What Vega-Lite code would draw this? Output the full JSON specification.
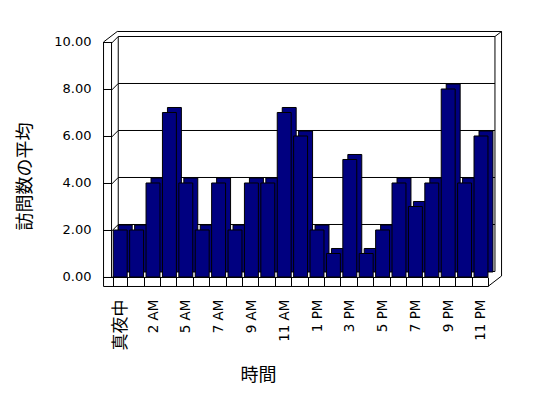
{
  "$schema": "https://vega.github.io/schema/vega-lite/v6.json",
  "width": 398,
  "height": 255,
  "autosize": {"type": "none"},
  "padding": {"left": 103, "top": 31, "right": 47, "bottom": 112},
  "background": "white",
  "view": {"stroke": null, "fill": "white"},
  "config": {
    "axis": {
      "labelFont": "DejaVu Sans, Noto Sans CJK JP",
      "labelFontSize": 13,
      "labelColor": "black",
      "tickColor": "black",
      "domainColor": "black",
      "titleFont": "Noto Sans CJK JP",
      "titleFontSize": 18,
      "titleFontWeight": "normal",
      "titleColor": "black"
    },
    "rule": {"color": "black", "strokeWidth": 1}
  },
  "datasets": {
    "bars": [
      {"h": "真夜中", "v": 2}, {"h": "1 AM", "v": 2}, {"h": "2 AM", "v": 4}, {"h": "3 AM", "v": 7},
      {"h": "5 AM", "v": 4}, {"h": "6 AM", "v": 2}, {"h": "7 AM", "v": 4}, {"h": "8 AM", "v": 2},
      {"h": "9 AM", "v": 4}, {"h": "10 AM", "v": 4}, {"h": "11 AM", "v": 7}, {"h": "12 PM", "v": 6},
      {"h": "1 PM", "v": 2}, {"h": "2 PM", "v": 1}, {"h": "3 PM", "v": 5}, {"h": "4 PM", "v": 1},
      {"h": "5 PM", "v": 2}, {"h": "6 PM", "v": 4}, {"h": "7 PM", "v": 3}, {"h": "8 PM", "v": 4},
      {"h": "9 PM", "v": 8}, {"h": "10 PM", "v": 4}, {"h": "11 PM", "v": 6}
    ],
    "grid": [{"v": 0}, {"v": 2}, {"v": 4}, {"v": 6}, {"v": 8}, {"v": 10}]
  },
  "encoding": {
    "x": {
      "field": "h", "type": "nominal", "sort": null,
      "scale": {
        "type": "band",
        "domain": ["真夜中", "1 AM", "2 AM", "3 AM", "5 AM", "6 AM", "7 AM", "8 AM", "9 AM", "10 AM", "11 AM", "12 PM", "1 PM", "2 PM", "3 PM", "4 PM", "5 PM", "6 PM", "7 PM", "8 PM", "9 PM", "10 PM", "11 PM"],
        "paddingInner": 0.15, "paddingOuter": 0.71, "align": 0.44
      },
      "axis": {
        "title": "時間",
        "labelAngle": -90,
        "labelExpr": "indexof(['真夜中','2 AM','5 AM','7 AM','9 AM','11 AM','1 PM','3 PM','5 PM','7 PM','9 PM','11 PM'], datum.value) >= 0 ? datum.value : ''",
        "labelFontSize": {"condition": {"test": "datum.value == '真夜中'", "value": 17}, "value": 13.5},
        "labelPadding": 22,
        "tickBand": "extent",
        "tickSize": -9,
        "domain": false,
        "grid": false,
        "titleX": 155,
        "titleY": 89,
        "titleBaseline": "middle"
      }
    },
    "y": {
      "field": "v", "type": "quantitative",
      "scale": {"domain": [-0.383, 10.468], "nice": false, "zero": false},
      "axis": {
        "title": "訪問数の平均",
        "values": [0, 2, 4, 6, 8, 10],
        "format": ".2f",
        "tickSize": -9,
        "labelPadding": 21,
        "domain": false,
        "grid": false,
        "titleX": -78,
        "titleY": 145,
        "titleAngle": -90,
        "titleAlign": "center",
        "titleBaseline": "middle"
      }
    }
  },
  "layer": [
    {
      "data": {"name": "grid"},
      "mark": {"type": "rule", "xOffset": 5, "x2Offset": 7, "yOffset": -5.5},
      "encoding": {
        "x": {"datum": "真夜中", "bandPosition": 0},
        "x2": {"datum": "11 PM", "bandPosition": 1},
        "y": {"field": "v"}
      }
    },
    {
      "data": {"name": "grid"},
      "mark": {"type": "rule", "xOffset": -1, "x2Offset": 5, "yOffset": 0.5, "y2Offset": -5.5},
      "encoding": {
        "x": {"datum": "真夜中", "bandPosition": 0},
        "x2": {"datum": "真夜中", "bandPosition": 0},
        "y": {"field": "v"},
        "y2": {"field": "v"}
      }
    },
    {
      "data": {"name": "grid"},
      "mark": {"type": "rule", "xOffset": -9.7, "x2Offset": -1.2, "yOffset": 0.5},
      "encoding": {
        "x": {"datum": "真夜中", "bandPosition": 0},
        "x2": {"datum": "真夜中", "bandPosition": 0},
        "y": {"field": "v"}
      }
    },
    {
      "data": {"name": "grid"},
      "transform": [{"filter": "datum.v == 0"}],
      "mark": {"type": "rule", "xOffset": 5, "yOffset": -5.5, "y2Offset": -5.5},
      "encoding": {
        "x": {"datum": "真夜中", "bandPosition": 0},
        "y": {"datum": 0},
        "y2": {"datum": 10}
      }
    },
    {
      "data": {"name": "grid"},
      "transform": [{"filter": "datum.v == 0"}],
      "mark": {"type": "rule", "xOffset": 7, "yOffset": -5.5, "y2Offset": -5.5},
      "encoding": {
        "x": {"datum": "11 PM", "bandPosition": 1},
        "y": {"datum": 0},
        "y2": {"datum": 10}
      }
    },
    {
      "data": {"name": "grid"},
      "transform": [{"filter": "datum.v == 0"}],
      "mark": {"type": "rule", "xOffset": -9.7, "yOffset": 9.5, "y2Offset": 0},
      "encoding": {
        "x": {"datum": "真夜中", "bandPosition": 0},
        "y": {"datum": 0},
        "y2": {"datum": 10}
      }
    },
    {
      "data": {"name": "grid"},
      "transform": [{"filter": "datum.v == 0"}],
      "mark": {"type": "rule", "xOffset": -1.7, "yOffset": 0, "y2Offset": 0},
      "encoding": {
        "x": {"datum": "真夜中", "bandPosition": 0},
        "y": {"datum": 0},
        "y2": {"datum": 10}
      }
    },
    {
      "data": {"name": "grid"},
      "transform": [{"filter": "datum.v == 0"}],
      "mark": {"type": "rule", "xOffset": -9.7, "x2Offset": 0, "yOffset": 9.5},
      "encoding": {
        "x": {"datum": "真夜中", "bandPosition": 0},
        "x2": {"datum": "11 PM", "bandPosition": 1},
        "y": {"datum": 0}
      }
    },
    {
      "data": {"name": "grid"},
      "transform": [{"filter": "datum.v == 0"}],
      "mark": {"type": "rule", "xOffset": -9.7, "x2Offset": 0, "yOffset": 0.5},
      "encoding": {
        "x": {"datum": "真夜中", "bandPosition": 0},
        "x2": {"datum": "11 PM", "bandPosition": 1},
        "y": {"datum": 0}
      }
    },
    {
      "data": {"name": "grid"},
      "transform": [{"filter": "datum.v == 0"}],
      "mark": {"type": "rule", "xOffset": -9.7, "x2Offset": 4, "yOffset": 0, "y2Offset": -10.5},
      "encoding": {
        "x": {"datum": "真夜中", "bandPosition": 0},
        "x2": {"datum": "真夜中", "bandPosition": 0},
        "y": {"datum": 10},
        "y2": {"datum": 10}
      }
    },
    {
      "data": {"name": "grid"},
      "transform": [{"filter": "datum.v == 0"}],
      "mark": {"type": "rule", "xOffset": 4, "x2Offset": 13.6, "yOffset": -10.5},
      "encoding": {
        "x": {"datum": "真夜中", "bandPosition": 0},
        "x2": {"datum": "11 PM", "bandPosition": 1},
        "y": {"datum": 10}
      }
    },
    {
      "data": {"name": "grid"},
      "transform": [{"filter": "datum.v == 0"}],
      "mark": {"type": "rule", "xOffset": 13.6, "yOffset": -1, "y2Offset": -10.5},
      "encoding": {
        "x": {"datum": "11 PM", "bandPosition": 1},
        "y": {"datum": 0},
        "y2": {"datum": 10}
      }
    },
    {
      "data": {"name": "grid"},
      "transform": [{"filter": "datum.v == 0"}],
      "mark": {"type": "rule", "xOffset": 0, "x2Offset": 13.6, "yOffset": 9.5, "y2Offset": -1},
      "encoding": {
        "x": {"datum": "11 PM", "bandPosition": 1},
        "x2": {"datum": "11 PM", "bandPosition": 1},
        "y": {"datum": 0},
        "y2": {"datum": 0}
      }
    },
    {
      "data": {"name": "grid"},
      "transform": [{"filter": "datum.v == 0"}],
      "mark": {"type": "rule", "xOffset": 7, "x2Offset": 13.6, "yOffset": -5.5, "y2Offset": -10.5},
      "encoding": {
        "x": {"datum": "11 PM", "bandPosition": 1},
        "x2": {"datum": "11 PM", "bandPosition": 1},
        "y": {"datum": 10},
        "y2": {"datum": 10}
      }
    },
    {
      "data": {"name": "bars"},
      "mark": {"type": "bar", "fill": "#000080", "stroke": "black", "strokeWidth": 1, "xOffset": 5, "x2Offset": 5, "yOffset": -5, "y2Offset": -5},
      "encoding": {}
    },
    {
      "data": {"name": "bars"},
      "mark": {"type": "bar", "fill": "#000080", "stroke": "black", "strokeWidth": 1},
      "encoding": {}
    }
  ]
}
